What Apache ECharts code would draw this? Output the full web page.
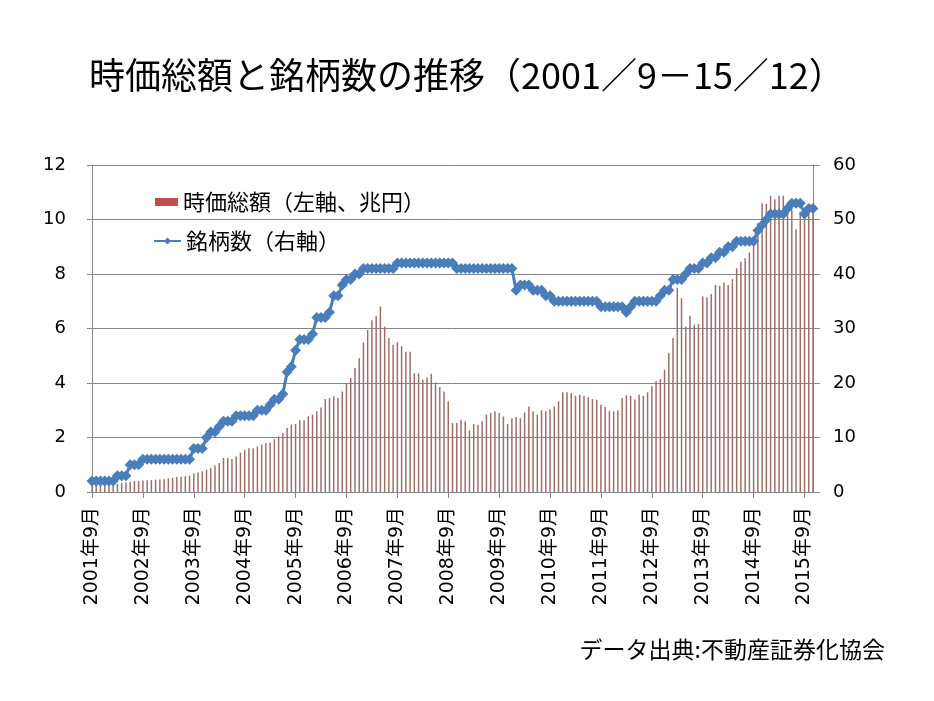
<!DOCTYPE html>
<html><head><meta charset="utf-8">
<script src="https://cdn.jsdelivr.net/npm/echarts@6/dist/echarts.min.js"></script>
<style>html,body{margin:0;padding:0;background:#fff}#c{width:934px;height:701px}</style>
</head><body><div id="c"></div>
<script>
// Months 2001/9 .. 2015/11 (171 monthly points)
const startYear = 2001, startMonth = 9, monthCount = 171;
const categories = [];
for (let i = 0; i < monthCount; i++) {
  const m = startMonth - 1 + i;
  categories.push((startYear + Math.floor(m / 12)) + '年' + (m % 12 + 1) + '月');
}

// 時価総額 (兆円, left axis)
const marketCap = [
  0.26,0.27,0.28,0.28,0.30,0.30,0.30,0.33,0.36,0.38,0.40,0.40,
  0.42,0.43,0.44,0.45,0.46,0.47,0.50,0.52,0.55,0.57,0.58,0.60,
  0.68,0.72,0.76,0.82,0.88,0.97,1.06,1.25,1.25,1.21,1.30,1.45,
  1.55,1.61,1.61,1.67,1.74,1.80,1.82,1.94,2.04,2.16,2.35,2.47,
  2.50,2.63,2.63,2.78,2.84,2.96,3.10,3.41,3.45,3.51,3.45,3.69,
  4.00,4.18,4.55,4.91,5.49,5.95,6.30,6.47,6.81,6.07,5.65,5.40,
  5.50,5.35,5.15,5.15,4.36,4.36,4.12,4.20,4.34,4.02,3.85,3.69,
  3.33,2.53,2.53,2.65,2.60,2.26,2.50,2.47,2.60,2.84,2.90,2.96,
  2.90,2.77,2.50,2.71,2.75,2.71,2.92,3.14,2.96,2.84,3.00,2.96,
  3.04,3.14,3.33,3.66,3.66,3.63,3.53,3.57,3.53,3.48,3.41,3.39,
  3.20,3.12,2.98,2.96,3.00,3.45,3.55,3.53,3.39,3.57,3.53,3.66,
  3.88,4.06,4.14,4.49,5.10,5.65,7.50,7.11,6.07,6.47,6.14,6.16,
  7.18,7.15,7.27,7.60,7.57,7.69,7.60,7.81,8.21,8.46,8.58,8.79,
  9.19,9.86,10.60,10.57,10.87,10.74,10.87,10.87,10.40,10.35,9.64,10.29,
  10.30,10.20,10.30
];

// 銘柄数 (right axis)
const reitCount = [
  2,2,2,2,2,2,3,3,3,5,5,5,
  6,6,6,6,6,6,6,6,6,6,6,6,
  8,8,8,10,11,11,12,13,13,13,14,14,
  14,14,14,15,15,15,16,17,17,18,22,23,
  26,28,28,28,29,32,32,32,33,36,36,38,
  39,39,40,40,41,41,41,41,41,41,41,41,
  42,42,42,42,42,42,42,42,42,42,42,42,
  42,42,41,41,41,41,41,41,41,41,41,41,
  41,41,41,41,37,38,38,38,37,37,37,36,
  36,35,35,35,35,35,35,35,35,35,35,35,
  34,34,34,34,34,34,33,34,35,35,35,35,
  35,35,36,37,37,39,39,39,40,41,41,41,
  42,42,43,43,44,44,45,45,46,46,46,46,
  46,48,49,50,51,51,51,51,52,53,53,53,
  51,52,52
];

const leftTicks = {min: 0, max: 12, interval: 2};
const rightTicks = {min: 0, max: 60, interval: 10};

const capName = '時価総額（左軸、兆円）';
const countName = '銘柄数（右軸）';
const cjk = "'Noto Sans CJK JP', sans-serif";
const num = "'DejaVu Sans', 'Noto Sans CJK JP', sans-serif";
const gray = '#868686';

const chart = echarts.init(document.getElementById('c'));
chart.setOption({
  animation: false,
  backgroundColor: '#fff',
  title: [{
    text: '時価総額と銘柄数の推移（2001／9－15／12）',
    left: 84, top: 52,
    textStyle: {fontFamily: cjk, fontSize: 36, fontWeight: 'normal', color: '#000'}
  }, {
    text: 'データ出典:不動産証券化協会',
    right: 44, top: 633,
    textStyle: {fontFamily: cjk, fontSize: 23, fontWeight: 'normal', color: '#000'}
  }],
  legend: [{
    data: [{name: capName, icon: 'rect', itemStyle: {color: '#C0504D'}}],
    left: 155, top: 191, padding: 0,
    itemWidth: 23, itemHeight: 8, itemGap: 4,
    textStyle: {fontFamily: cjk, fontSize: 22, color: '#000'}
  }, {
    data: [{name: countName}],
    left: 153, top: 230, padding: 0,
    itemWidth: 27, itemHeight: 9,
    textStyle: {fontFamily: cjk, fontSize: 22, color: '#000'}
  }],
  grid: {left: 92, right: 121, top: 165, bottom: 209, containLabel: false},
  xAxis: {
    type: 'category',
    data: categories,
    boundaryGap: false,
    axisLine: {lineStyle: {color: gray, width: 1}},
    axisTick: {interval: 11, length: 6, lineStyle: {color: gray}},
    axisLabel: {interval: 11, rotate: 90, margin: 15, fontFamily: num, fontSize: 19, color: '#000'},
    splitLine: {show: false}
  },
  yAxis: [{
    type: 'value',
    min: leftTicks.min, max: leftTicks.max, interval: leftTicks.interval,
    axisLine: {show: true, lineStyle: {color: gray}},
    axisTick: {show: true, length: 5, lineStyle: {color: gray}},
    axisLabel: {margin: 26, fontFamily: num, fontSize: 18, color: '#000'},
    splitLine: {lineStyle: {color: gray, width: 1}}
  }, {
    type: 'value',
    min: rightTicks.min, max: rightTicks.max, interval: rightTicks.interval,
    axisLine: {show: true, lineStyle: {color: gray}},
    axisTick: {show: true, length: 7, lineStyle: {color: gray}},
    axisLabel: {margin: 20, fontFamily: num, fontSize: 18, color: '#000'},
    splitLine: {show: false}
  }],
  series: [{
    name: capName,
    type: 'bar',
    yAxisIndex: 0,
    data: marketCap,
    barWidth: 1.5,
    itemStyle: {color: '#9E6F69'},
    z: 2
  }, {
    name: countName,
    type: 'line',
    yAxisIndex: 1,
    data: reitCount,
    symbol: 'diamond',
    symbolSize: 11,
    showAllSymbol: true,
    itemStyle: {color: '#4A7EBB'},
    lineStyle: {color: '#4A7EBB', width: 3},
    z: 3
  }]
});
</script></body></html>
